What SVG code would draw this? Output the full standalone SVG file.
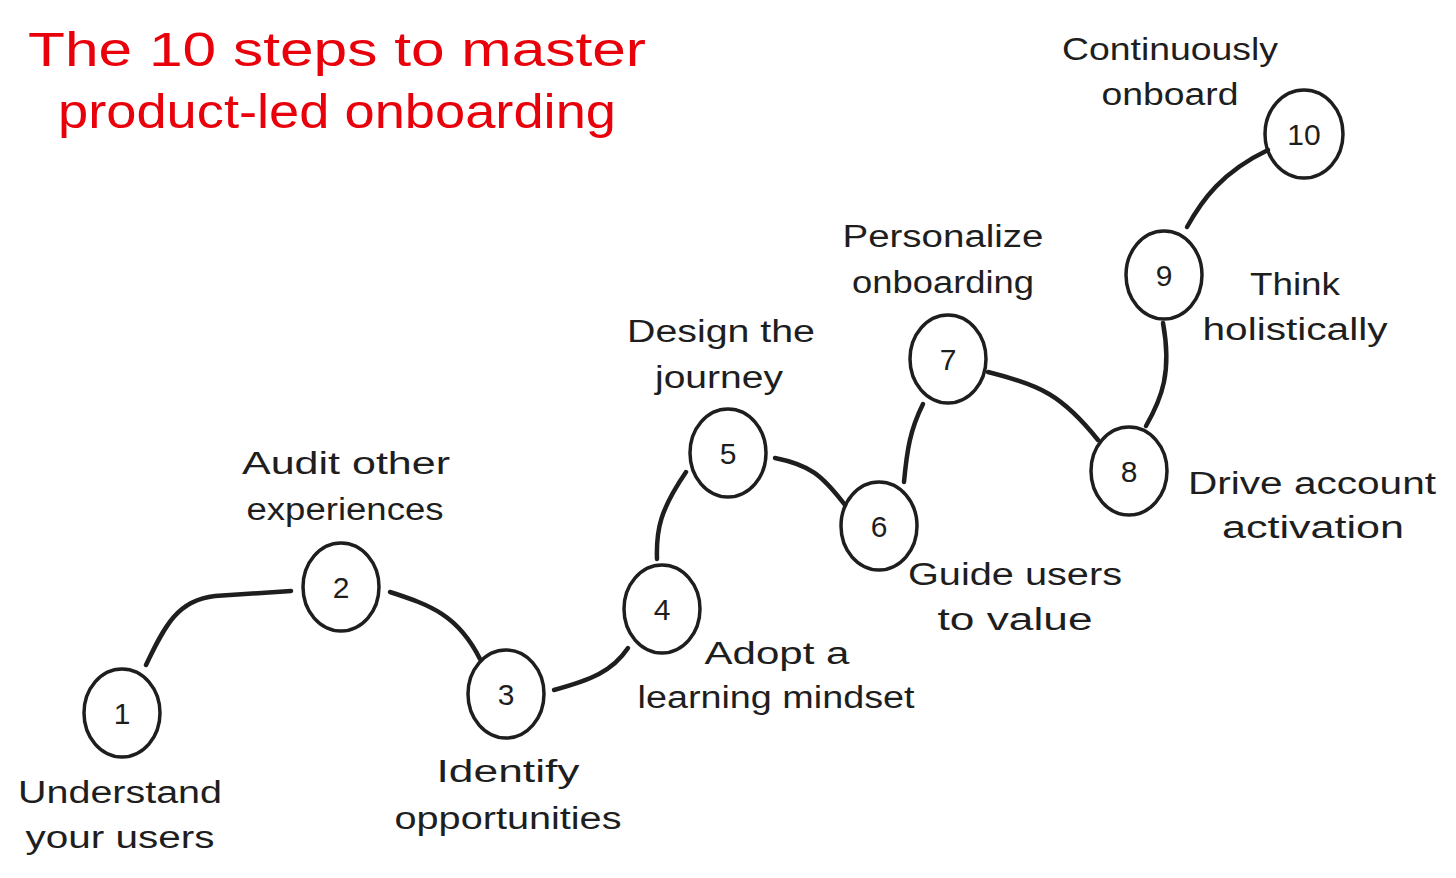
<svg xmlns="http://www.w3.org/2000/svg" width="1456" height="878" viewBox="0 0 1456 878">
<style>
.node ellipse{fill:none;stroke:#1e1e1e;stroke-width:3.5}
.num{font-family:"Liberation Sans",Arial,sans-serif;font-size:30px;fill:#1e1e1e;text-anchor:middle}
.lbl{font-family:"Liberation Sans",Arial,sans-serif;font-size:31px;fill:#1e1e1e;text-anchor:middle}
.title{font-family:"Liberation Sans",Arial,sans-serif;font-size:48px;fill:#e8000b;text-anchor:middle}
#connectors path{fill:none;stroke:#1e1e1e;stroke-width:4.5;stroke-linecap:round}
</style>
<rect width="1456" height="878" fill="#ffffff"/>
<g id="title">
<text class="title" x="337" y="66" textLength="618" lengthAdjust="spacingAndGlyphs">The 10 steps to master</text>
<text class="title" x="337" y="128" textLength="558" lengthAdjust="spacingAndGlyphs">product-led onboarding</text>
</g>
<g id="connectors">
<path d="M146 665 C165 625 178 600 215 596 L291 591"/>
<path d="M390 592 C430 605 458 615 480 659"/>
<path d="M554 690 C590 680 612 672 628 648"/>
<path d="M657 559 C656 530 660 510 686 472"/>
<path d="M775 458 C810 465 822 475 845 505"/>
<path d="M904 482 C907 450 910 430 923 404"/>
<path d="M988 372 C1040 385 1062 395 1098 440"/>
<path d="M1146 426 C1162 398 1172 372 1163 323"/>
<path d="M1187 227 C1202 200 1222 172 1268 150"/>
</g>
<g id="n1" class="node"><ellipse cx="122" cy="713" rx="38" ry="44"/><text class="num" x="122" y="724">1</text>
<text class="lbl" x="120" y="803" textLength="204" lengthAdjust="spacingAndGlyphs">Understand</text><text class="lbl" x="120" y="848" textLength="189" lengthAdjust="spacingAndGlyphs">your users</text></g>
<g id="n2" class="node"><ellipse cx="341" cy="587" rx="38" ry="44"/><text class="num" x="341" y="598">2</text>
<text class="lbl" x="346" y="474" textLength="208" lengthAdjust="spacingAndGlyphs">Audit other</text><text class="lbl" x="345" y="520" textLength="197" lengthAdjust="spacingAndGlyphs">experiences</text></g>
<g id="n3" class="node"><ellipse cx="506" cy="694" rx="38" ry="44"/><text class="num" x="506" y="705">3</text>
<text class="lbl" x="508" y="782" textLength="143" lengthAdjust="spacingAndGlyphs">Identify</text><text class="lbl" x="508" y="829" textLength="227" lengthAdjust="spacingAndGlyphs">opportunities</text></g>
<g id="n4" class="node"><ellipse cx="662" cy="609" rx="38" ry="44"/><text class="num" x="662" y="620">4</text>
<text class="lbl" x="777" y="664" textLength="145" lengthAdjust="spacingAndGlyphs">Adopt a</text><text class="lbl" x="776" y="708" textLength="277" lengthAdjust="spacingAndGlyphs">learning mindset</text></g>
<g id="n5" class="node"><ellipse cx="728" cy="453" rx="38" ry="44"/><text class="num" x="728" y="464">5</text>
<text class="lbl" x="721" y="342" textLength="188" lengthAdjust="spacingAndGlyphs">Design the</text><text class="lbl" x="719" y="388" textLength="128" lengthAdjust="spacingAndGlyphs">journey</text></g>
<g id="n6" class="node"><ellipse cx="879" cy="526" rx="38" ry="44"/><text class="num" x="879" y="537">6</text>
<text class="lbl" x="1015" y="585" textLength="214" lengthAdjust="spacingAndGlyphs">Guide users</text><text class="lbl" x="1015" y="630" textLength="155" lengthAdjust="spacingAndGlyphs">to value</text></g>
<g id="n7" class="node"><ellipse cx="948" cy="359" rx="38" ry="44"/><text class="num" x="948" y="370">7</text>
<text class="lbl" x="943" y="247" textLength="201" lengthAdjust="spacingAndGlyphs">Personalize</text><text class="lbl" x="943" y="293" textLength="182" lengthAdjust="spacingAndGlyphs">onboarding</text></g>
<g id="n8" class="node"><ellipse cx="1129" cy="471" rx="38" ry="44"/><text class="num" x="1129" y="482">8</text>
<text class="lbl" x="1312" y="494" textLength="248" lengthAdjust="spacingAndGlyphs">Drive account</text><text class="lbl" x="1313" y="538" textLength="182" lengthAdjust="spacingAndGlyphs">activation</text></g>
<g id="n9" class="node"><ellipse cx="1164" cy="275" rx="38" ry="44"/><text class="num" x="1164" y="286">9</text>
<text class="lbl" x="1295" y="295" textLength="90" lengthAdjust="spacingAndGlyphs">Think</text><text class="lbl" x="1295" y="340" textLength="185" lengthAdjust="spacingAndGlyphs">holistically</text></g>
<g id="n10" class="node"><ellipse cx="1304" cy="134" rx="39" ry="44"/><text class="num" x="1304" y="145">10</text>
<text class="lbl" x="1170" y="60" textLength="216" lengthAdjust="spacingAndGlyphs">Continuously</text><text class="lbl" x="1170" y="105" textLength="137" lengthAdjust="spacingAndGlyphs">onboard</text></g>
</svg>
